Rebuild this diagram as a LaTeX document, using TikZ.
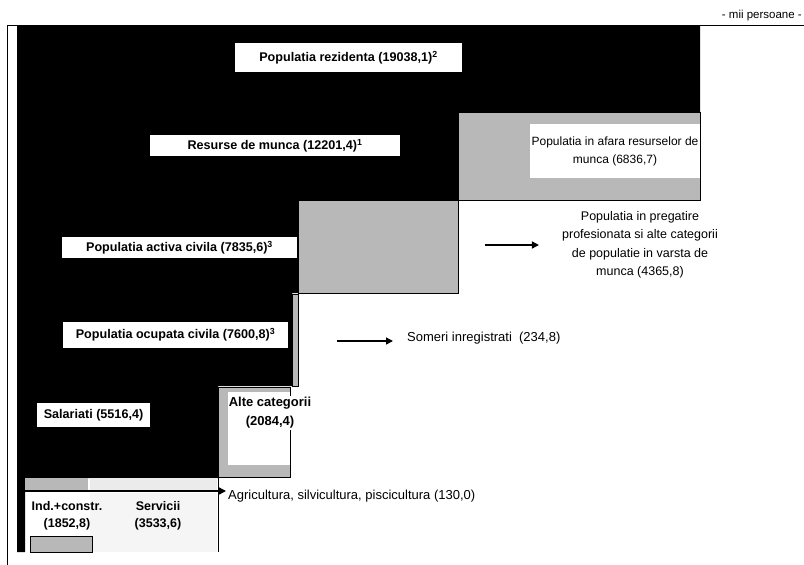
\documentclass[tikz,border=0pt]{standalone}
\usepackage{fontspec}
\setmainfont{Liberation Sans}
\usetikzlibrary{arrows.meta,positioning}
\tikzset{lab/.style={fill=white,inner sep=0pt,font=\fontsize{12.6}{16}\selectfont\bfseries},
txt/.style={inner sep=0pt,align=center,font=\fontsize{12.5}{18.5}\selectfont},
grayblk/.style={fill=black!28,draw=black,thin},
arr/.style={line width=1.4pt,-{Triangle[length=7pt,width=7pt]}}}

\begin{document}
\begin{tikzpicture}[x=1pt,y=-1pt]
\useasboundingbox (0,0) rectangle (804,565);
\draw (7,25) -- (804,25);
\draw (7,25) -- (7,565);
\node[anchor=south east,inner sep=0pt,font=\fontsize{11.5}{13}\selectfont] (mii) at (802,21) {- mii persoane -};

\fill[black] (17,26) -- (700,26) -- (700,112) -- (458,112) -- (458,200) -- (298,200) -- (298,293)
 -- (292,293) -- (292,386) -- (218,386) -- (218,478) -- (25,478) -- (25,552) -- (17,552) -- cycle;

\filldraw[grayblk] (458,112) rectangle (700,200);
\filldraw[grayblk] (298,200) rectangle (458,293);
\filldraw[grayblk] (292,294) rectangle (298,386);
\filldraw[grayblk] (218,387) rectangle (290,477);
\fill[white] (228,392) rectangle (290,465);

\fill[black!28] (25,478) rectangle (88,490);
\fill[black!8] (90,478) rectangle (217,490);
\fill[black!4] (90,493) rectangle (217,552);
\draw[thick] (218,478) -- (218,552);
\filldraw[grayblk] (30,536) rectangle (92,552);

\node[lab,minimum width=227pt,minimum height=29pt] (rez) at (348.5,57.5) {Populatia rezidenta (19038,1)\textsuperscript{2}};
\node[lab,minimum width=250pt,minimum height=21pt] (res) at (275,145.5) {Resurse de munca (12201,4)\textsuperscript{1}};
\node[lab,minimum width=235pt,minimum height=21pt] (act) at (179.5,247.5) {Populatia activa civila (7835,6)\textsuperscript{3}};
\node[lab,minimum width=225pt,minimum height=26pt] (ocu) at (175.5,335) {Populatia ocupata civila (7600,8)\textsuperscript{3}};
\node[lab,minimum width=113pt,minimum height=24pt] (sal) at (93.5,415) {Salariati (5516,4)};

\node[lab,txt,fill=white,minimum width=170pt,minimum height=54pt,font=\fontsize{12}{18}\selectfont] (afara) at (615,151) {Populatia in afara resurselor de\\munca (6836,7)};
\node[txt] (preg) at (640,245) {Populatia in pregatire\\profesionata si alte categorii\\de populatie in varsta de\\munca (4365,8)};
\node[txt,anchor=west,font=\fontsize{13}{16}\selectfont] (som) at (407,338) {Someri inregistrati~ (234,8)};
\node[txt,anchor=center,fill=white,inner sep=1pt,font=\fontsize{13}{19}\selectfont\bfseries] (alte) at (270,413) {Alte categorii\\(2084,4)};
\node[txt,anchor=west,font=\fontsize{13}{16}\selectfont] (agri) at (228,496) {Agricultura, silvicultura, piscicultura (130,0)};
\node[txt,font=\fontsize{12.5}{17}\selectfont\bfseries] (ind) at (67,516) {Ind.+constr.\\(1852,8)};
\node[txt,font=\fontsize{12.5}{17}\selectfont\bfseries] (serv) at (158,516) {Servicii\\(3533,6)};

\coordinate (p1) at (485,245);
\coordinate (p2) at (337,341);
\coordinate (p3) at (25,491);
\draw[arr,shorten >=23pt] (p1) -- (p1 -| preg.west);
\draw[arr,shorten >=14pt] (p2) -- (p2 -| som.west);
\draw[arr,shorten >=2pt] (p3) -- (p3 -| agri.west);
\end{tikzpicture}
\end{document}
